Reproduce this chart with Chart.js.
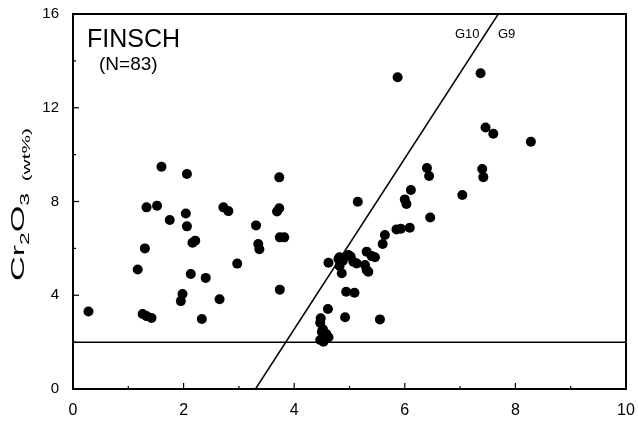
<!DOCTYPE html>
<html>
<head>
<meta charset="utf-8">
<script src="https://cdn.jsdelivr.net/npm/chart.js@4.4.0/dist/chart.umd.min.js"></script>
<style>
    html, body { margin: 0; padding: 0; background: #fff; }
    #wrap { width: 638px; height: 428px; position: relative; }
</style>
</head>
<body>
<div id="wrap"><canvas id="chart"></canvas></div>
<script>
// garnet analyses, Finsch: CaO (x) vs Cr2O3 (y), wt%
const caoValues = [
    0.28, 1.17, 1.26, 1.33, 1.42, 1.30, 1.33, 1.52, 1.60, 1.75,
    1.95, 1.98, 2.04, 2.06, 2.06, 2.13, 2.16, 2.21, 2.33, 2.40,
    2.65, 2.72, 2.81, 2.97, 3.31, 3.35, 3.37, 3.69, 3.73, 3.73,
    3.74, 3.82, 3.74,
    4.47, 4.50, 4.56, 4.62, 4.53, 4.47, 4.48, 4.61, 4.92, 5.55,
    4.94, 5.09, 4.62, 4.82, 4.88, 4.98, 4.82, 4.86, 5.07, 5.13,
    5.31, 5.40, 5.28, 5.31, 5.15, 5.60, 5.64, 5.85, 5.93, 6.09,
    6.00, 6.03, 6.11, 5.87, 6.40, 6.44, 6.46, 7.04, 7.37, 7.40,
    7.42, 7.46, 7.60, 8.28,
    5.46, 5.34, 4.80, 4.58, 4.52, 5.02
];
const cr2o3Values = [
    3.31, 5.10, 3.20, 3.11, 3.03, 6.00, 7.75, 7.82, 9.48, 7.21,
    3.75, 4.05, 7.49, 6.94, 9.17, 4.91, 6.24, 6.33, 2.99, 4.74,
    3.83, 7.75, 7.59, 5.35, 6.98, 6.19, 5.96, 7.57, 7.71, 9.03,
    6.47, 6.47, 4.24,
    2.09, 2.44, 2.23, 2.21, 2.02, 2.83, 3.02, 3.41, 3.06, 2.97,
    4.15, 4.11, 5.39, 5.62, 5.47, 5.72, 5.25, 4.94, 5.43, 5.36,
    5.86, 5.67, 5.29, 5.08, 7.99, 6.19, 6.57, 6.81, 6.84, 6.88,
    8.09, 7.89, 8.49, 13.30, 9.43, 9.09, 7.32, 8.28, 13.47, 9.39,
    9.04, 11.16, 10.89, 10.55,
    5.62, 5.00, 5.55, 2.35, 2.55, 5.65
];

// G10 / G9 divider and the 2 wt% line
const dividerX = [3.3, 7.69];
const dividerY = [0, 16];
const cutoffX = [0, 10];
const cutoffY = [2, 2];

const panelTitle = 'FINSCH';
const panelCount = '(N=83)';
const leftZone = 'G10';
const rightZone = 'G9';

const FONT = '"Liberation Sans", Arial, sans-serif';

function toPoints(xs, ys) {
    return xs.map((x, i) => ({ x: x, y: ys[i] }));
}

// frame, inward ticks, labels
const decorations = {
    id: 'decorations',
    afterDraw(chart) {
        const ctx = chart.ctx;
        const a = chart.chartArea;
        const xs = chart.scales.x;
        const ys = chart.scales.y;

        ctx.save();
        ctx.strokeStyle = '#000';
        ctx.lineWidth = 2;
        ctx.strokeRect(a.left, a.top, a.right - a.left, a.bottom - a.top);

        ctx.fillStyle = '#000';
        for (let v = 1; v < 10; v++) {
            const px = xs.getPixelForValue(v);
            const len = v % 2 === 0 ? 6 : 3;
            ctx.fillRect(px - 0.6, a.bottom - len, 1.2, len);
        }
        for (let v = 2; v < 16; v += 2) {
            const py = ys.getPixelForValue(v);
            const len = v % 4 === 0 ? 6 : 3;
            ctx.fillRect(a.left, py - 0.6, len, 1.2);
        }

        ctx.textBaseline = 'alphabetic';
        ctx.textAlign = 'left';
        ctx.font = '25px ' + FONT;
        ctx.fillText(panelTitle, 87, 47);
        ctx.font = '19px ' + FONT;
        ctx.fillText(panelCount, 99, 70);
        ctx.font = '13px ' + FONT;
        ctx.fillText(leftZone, 455, 38);
        ctx.fillText(rightZone, 498, 38);

        // y title, stretched like the original
        ctx.translate(24, 281);
        ctx.rotate(-Math.PI / 2);
        ctx.scale(1.9, 1);
        let x = 0;
        const parts = [
            ['Cr', 18, 0], ['2', 12, 5], ['O', 18, 0], ['3', 12, 5],
            ['  (wt%)', 11, 6]
        ];
        parts.forEach(p => {
            ctx.font = p[1] + 'px ' + FONT;
            ctx.fillText(p[0], x, p[2]);
            x += ctx.measureText(p[0]).width;
        });
        ctx.restore();
    }
};

Chart.defaults.font.family = FONT;
Chart.defaults.color = '#000';

new Chart(document.getElementById('chart').getContext('2d'), {
    type: 'scatter',
    data: {
        datasets: [
            {
                label: 'garnets',
                data: toPoints(caoValues, cr2o3Values),
                backgroundColor: '#000',
                borderColor: '#000',
                pointRadius: 5,
                pointBorderWidth: 0
            },
            {
                label: 'G10/G9',
                data: toPoints(dividerX, dividerY),
                showLine: true,
                borderColor: '#000',
                borderWidth: 1.5,
                pointRadius: 0
            },
            {
                label: 'cutoff',
                data: toPoints(cutoffX, cutoffY),
                showLine: true,
                borderColor: '#000',
                borderWidth: 1.5,
                pointRadius: 0
            }
        ]
    },
    options: {
        responsive: true,
        maintainAspectRatio: false,
        animation: false,
        layout: { padding: { top: 14, right: 12, left: 0, bottom: 0 } },
        plugins: {
            legend: { display: false },
            tooltip: { enabled: false }
        },
        scales: {
            x: {
                min: 0,
                max: 10,
                grid: { display: false, drawTicks: false },
                border: { display: false },
                ticks: { stepSize: 2, padding: 12, font: { size: 16 }, maxRotation: 0 },
                afterFit: (scale) => {
                    scale.height = 39;
                    scale.paddingLeft = 0;
                    scale.paddingRight = 0;
                }
            },
            y: {
                min: 0,
                max: 16,
                grid: { display: false, drawTicks: false },
                border: { display: false },
                ticks: { stepSize: 4, padding: 14, font: { size: 15 } },
                afterFit: (scale) => {
                    scale.width = 73;
                    scale.paddingTop = 0;
                    scale.paddingBottom = 0;
                }
            }
        }
    },
    plugins: [decorations]
});
</script>
</body>
</html>
